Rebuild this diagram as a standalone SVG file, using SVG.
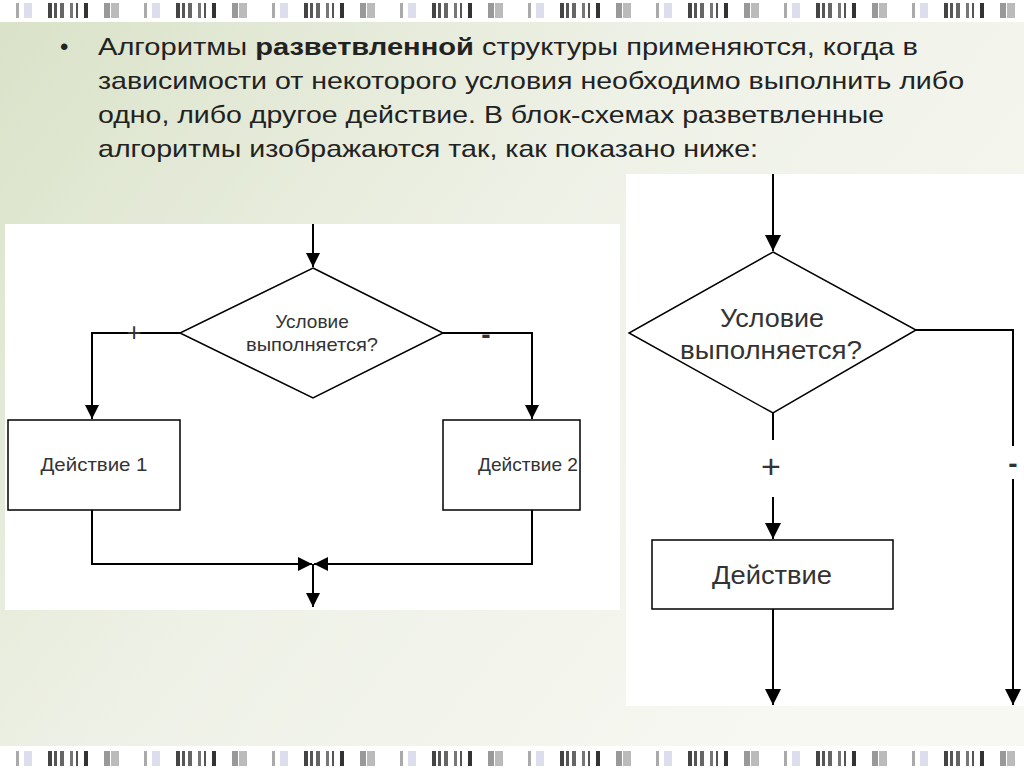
<svg xmlns="http://www.w3.org/2000/svg" width="1024" height="768" viewBox="0 0 1024 768">
<defs>
<linearGradient id="bg" x1="0" y1="0" x2="1" y2="0.6">
<stop offset="0" stop-color="#d9e2c8"/><stop offset="0.5" stop-color="#eef1e6"/><stop offset="1" stop-color="#f7f8f2"/>
</linearGradient>
<marker id="ar" viewBox="0 0 10 10" refX="10" refY="5" markerWidth="7" markerHeight="7" orient="auto"><path d="M0,0L10,5L0,10z" fill="#000"/></marker>
<marker id="ar2" viewBox="0 0 10 10" refX="10" refY="5" markerWidth="8" markerHeight="8" orient="auto"><path d="M0,0L10,5L0,10z" fill="#000"/></marker>
<pattern id="bars" width="128" height="22" patternUnits="userSpaceOnUse">
<rect x="16" y="3" width="3" height="15" fill="#aaa"/><rect x="24" y="3" width="8" height="15" fill="#dde"/>
<rect x="48" y="3" width="4" height="15" fill="#444"/><rect x="54" y="3" width="3" height="15" fill="#555"/><rect x="60" y="3" width="4" height="15" fill="#666"/><rect x="70" y="3" width="3" height="15" fill="#777"/><rect x="76" y="3" width="2" height="15" fill="#555"/><rect x="84" y="3" width="4" height="15" fill="#333"/>
<rect x="104" y="3" width="6" height="15" fill="#999"/><rect x="111" y="3" width="8" height="15" fill="#bbb"/>
</pattern>
<style>
.t{font-family:"Liberation Sans",Arial,sans-serif;fill:#222}
.s{font-family:"Liberation Sans",Arial,sans-serif;fill:#333;text-anchor:middle}
.ln{fill:none;stroke:#000;stroke-width:2}
.sh{fill:#fff;stroke:#000;stroke-width:1.5}
</style>
</defs>
<rect width="1024" height="768" fill="url(#bg)"/>
<rect width="1024" height="22" fill="#fff"/><rect width="1024" height="22" fill="url(#bars)"/>
<rect y="746" width="1024" height="22" fill="#fff"/><rect y="746" width="1024" height="22" fill="url(#bars)"/>
<g class="t" font-size="24" >
<text x="60" y="55">•</text>
<text x="98" y="55" textLength="820" lengthAdjust="spacingAndGlyphs">Алгоритмы <tspan font-weight="bold">разветвленной</tspan> структуры применяются, когда в</text>
<text x="98" y="89" textLength="866" lengthAdjust="spacingAndGlyphs">зависимости от некоторого условия необходимо выполнить либо</text>
<text x="98" y="123" textLength="786" lengthAdjust="spacingAndGlyphs">одно, либо другое действие. В блок-схемах разветвленные</text>
<text x="98" y="157" textLength="660" lengthAdjust="spacingAndGlyphs">алгоритмы изображаются так, как показано ниже:</text>
</g>
<rect x="5" y="224" width="615" height="386" fill="#fff"/>
<rect x="626" y="174" width="398" height="532" fill="#fff"/>
<g id="connectors">
<path class="ln" d="M313,224V267" marker-end="url(#ar)" stroke-width="1.5"/>
<path class="ln" d="M180,333H92V419" marker-end="url(#ar)" stroke-width="1.5"/>
<path class="ln" d="M443,333H532V419" marker-end="url(#ar)" stroke-width="1.5"/>
<path class="ln" d="M92,510V564H312" marker-end="url(#ar)" stroke-width="1.5"/>
<path class="ln" d="M532,510V564H314" marker-end="url(#ar)" stroke-width="1.5"/>
<path class="ln" d="M313,564V607" marker-end="url(#ar)" stroke-width="1.5"/>
<path class="ln" d="M773,174V251" marker-end="url(#ar2)"/>
<path class="ln" d="M773,413V440"/>
<path class="ln" d="M773,497V539" marker-end="url(#ar2)"/>
<path class="ln" d="M773,609V705" marker-end="url(#ar2)"/>
<path class="ln" d="M916,330H1013V446"/>
<path class="ln" d="M1013,479V705" marker-end="url(#ar2)"/>
<text class="s" x="134" y="341" font-size="26">+</text>
<text class="s" x="486" y="344" font-size="28" font-weight="bold">-</text>
<text class="s" x="771" y="478" font-size="34">+</text>
<text class="s" x="1013" y="473" font-size="28" font-weight="bold">-</text>
</g>
<g id="cond1"><polygon class="sh" points="313,268 443,333 313,398 180,333"/>
<text class="s" x="312" y="328" font-size="19">Условие</text><text class="s" x="312" y="351" font-size="19" textLength="132" lengthAdjust="spacingAndGlyphs">выполняется?</text></g>
<g id="act1"><rect class="sh" x="8" y="420" width="172" height="90"/><text class="s" x="94" y="471" font-size="19" textLength="107" lengthAdjust="spacingAndGlyphs">Действие 1</text></g>
<g id="act2"><rect class="sh" x="443" y="420" width="137" height="90"/><text class="s" x="528" y="471" font-size="19" textLength="100" lengthAdjust="spacingAndGlyphs">Действие 2</text></g>
<g id="cond2"><polygon class="sh" stroke-width="2" points="773,252 916,330 773,413 629,333"/>
<text class="s" x="772" y="327" font-size="26" textLength="104" lengthAdjust="spacingAndGlyphs">Условие</text><text class="s" x="771" y="359" font-size="26" textLength="182" lengthAdjust="spacingAndGlyphs">выполняется?</text></g>
<g id="act3"><rect class="sh" stroke-width="2" x="652" y="540" width="241" height="69"/><text class="s" x="772" y="584" font-size="26" textLength="120" lengthAdjust="spacingAndGlyphs">Действие</text></g>
</svg>
